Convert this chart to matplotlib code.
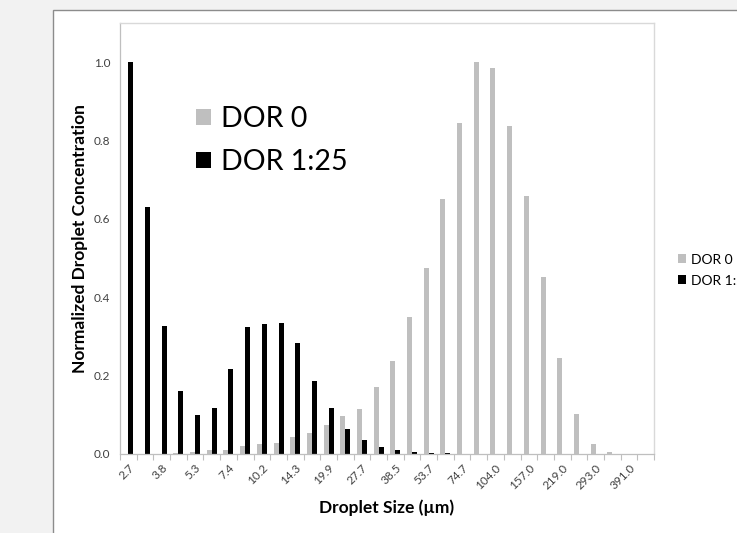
import matplotlib.pyplot as plt
import numpy as np
from matplotlib.patches import Patch, Rectangle

# droplet size categories (um); only every other one is labelled on the axis
sizes = [2.7, 3.2, 3.8, 4.5, 5.3, 6.3, 7.4, 8.7, 10.2, 12.1, 14.3, 16.9,
         19.9, 23.5, 27.7, 32.7, 38.5, 45.5, 53.7, 63.4, 74.7, 88.2, 104.0,
         128.0, 157.0, 186.0, 219.0, 256.0, 293.0, 339.0, 391.0, 451.0]

dor_0 = [0, 0, 0, 0.003, 0.005, 0.010, 0.010, 0.020, 0.026, 0.028, 0.043,
         0.053, 0.073, 0.097, 0.114, 0.170, 0.238, 0.350, 0.474, 0.651,
         0.845, 1.000, 0.984, 0.838, 0.659, 0.451, 0.244, 0.101, 0.025,
         0.004, 0, 0]

dor_1_25 = [1.000, 0.630, 0.326, 0.159, 0.099, 0.116, 0.216, 0.323, 0.331,
            0.333, 0.282, 0.185, 0.116, 0.064, 0.035, 0.018, 0.010, 0.005,
            0.003, 0.001, 0, 0, 0, 0, 0, 0, 0, 0, 0, 0, 0, 0]

series_names = ["DOR 0", "DOR 1:25"]
series_colors = ["#bfbfbf", "#000000"]

FONT = ["Lato", "DejaVu Sans"]
plt.rcParams["font.family"] = FONT

fig = plt.figure(figsize=(7.37, 5.33), dpi=100, facecolor="#f2f2f2")

# white chart area (Excel-style), running off the right edge
chart_bg = Rectangle((53 / 737, -0.01), 1.0, (533 - 10) / 533 + 0.01,
                     transform=fig.transFigure, facecolor="white",
                     edgecolor="#8c8c8c", linewidth=1.0)
chart_bg.set_zorder(-10)
fig.add_artist(chart_bg)

ax = fig.add_axes([120 / 737, (533 - 453.7) / 533,
                   534 / 737, (453.7 - 23) / 533])
ax.set_zorder(1)
ax.set_facecolor("white")

x = np.arange(len(sizes))
bar_w = 0.3
ax.bar(x - bar_w / 2, dor_0, width=bar_w, color=series_colors[0], linewidth=0)
ax.bar(x + bar_w / 2, dor_1_25, width=bar_w, color=series_colors[1], linewidth=0)

ax.set_xlim(-0.5, len(sizes) - 0.5)
ax.set_ylim(0, 1.1)

# tick marks at category boundaries, labels on every other category
ax.set_xticks(np.arange(len(sizes) + 1) - 0.5)
ax.set_xticklabels([])
ax.tick_params(axis="x", which="major", length=4, color="#bfbfbf", width=0.8)
label_pos = x[::2]
ax.set_xticks(label_pos, minor=True)
ax.set_xticklabels([f"{s:.1f}" for s in sizes[::2]], minor=True,
                   rotation=45, ha="right", rotation_mode="anchor",
                   fontsize=8.5, color="#404040")
ax.tick_params(axis="x", which="minor", length=0, pad=6)

ax.set_yticks([0, 0.2, 0.4, 0.6, 0.8, 1.0])
ax.set_yticklabels([f"{v:.1f}" for v in [0, 0.2, 0.4, 0.6, 0.8, 1.0]],
                   fontsize=8.5, color="#404040")
ax.tick_params(axis="y", length=0, pad=7)

for side in ["left", "bottom"]:
    ax.spines[side].set_color("#bfbfbf")
    ax.spines[side].set_linewidth(0.9)
for side in ["top", "right"]:
    ax.spines[side].set_color("#d9d9d9")
    ax.spines[side].set_linewidth(1.0)

ax.set_ylabel("Normalized Droplet Concentration", fontsize=12.5,
              fontweight="bold", labelpad=4)
ax.set_xlabel("Droplet Size (\u00b5m)", fontsize=12.5, fontweight="bold",
              labelpad=6)

handles = [Patch(facecolor=c, edgecolor="none") for c in series_colors]

# big legend inside the plot
ax.legend(handles, series_names, loc="upper left",
          bbox_to_anchor=(185 / 737, (533 - 95) / 533),
          bbox_transform=fig.transFigure, fontsize=20.5, frameon=False,
          handlelength=0.5, handleheight=0.5, handletextpad=0.35,
          labelspacing=0.6, borderaxespad=0)

# small Excel legend at the right, clipped by the image edge
fig.legend(handles, series_names, loc="upper left",
           bbox_to_anchor=(672 / 737, (533 - 248) / 533),
           fontsize=10, frameon=False, handlelength=0.6, handleheight=0.6,
           handletextpad=0.4, labelspacing=0.65, borderaxespad=0)

fig.savefig("out.png", dpi=100, facecolor=fig.get_facecolor())
